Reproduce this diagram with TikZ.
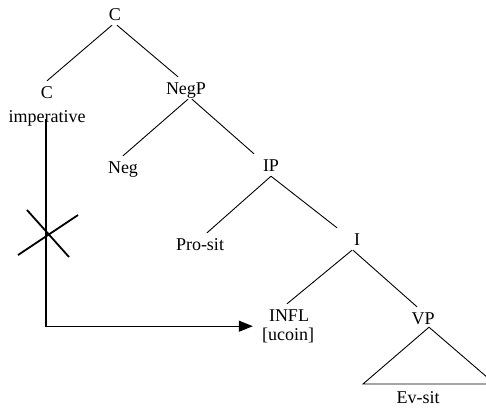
\documentclass[tikz,border=0pt]{standalone}
\usepackage{fontspec}
\setmainfont{Liberation Serif}
\usetikzlibrary{arrows.meta}
\tikzset{
	lbl/.style={anchor=base, inner xsep=2pt, inner ysep=3pt, text height=14pt, text depth=2pt, font=\fontsize{18}{20}\selectfont},
	branch/.style={line width=0.9pt},
	moveline/.style={line width=1.1pt, -{Triangle[length=14pt, width=11pt]}},
}

\begin{document}
\begin{tikzpicture}[x=1pt, y=-1pt]
			%%%%% START %%%%%
			
			\useasboundingbox (0, 0) rectangle (486, 408);
			\clip (0, 0) rectangle (486, 408);
			
			\node[lbl] (ctop) at (115, 20) {C};
			\node[lbl] (cimp) at (47, 98) {C};
			\node[lbl] (imp) at (47, 122) {imperative};
			\node[lbl] (negp) at (186, 94) {NegP};
			\node[lbl] (neg) at (123, 173) {Neg};
			\node[lbl] (ip) at (271, 171) {IP};
			\node[lbl] (prosit) at (200, 250) {Pro-sit};
			\node[lbl] (ibar) at (357, 245) {I};
			\node[lbl] (infl) at (289, 321) {INFL};
			\node[lbl] (ucoin) at (288, 340) {[ucoin]};
			\node[lbl] (vp) at (423, 324) {VP};
			\node[lbl] (evsit) at (418, 403) {Ev-sit};
			
			\draw[branch] ([xshift=-3pt]ctop.south) -- (cimp.north);
			\draw[branch] ([xshift=2pt]ctop.south) -- ([xshift=-8pt]negp.north);
			\draw[branch] ([xshift=2pt]negp.south) -- (neg.north);
			\draw[branch] ([xshift=6pt]negp.south) -- ([xshift=-17pt]ip.north);
			\draw[branch] (ip.south) -- ([xshift=7pt]prosit.north);
			\draw[branch] (ip.south) -- ([xshift=-20pt]ibar.north);
			\draw[branch] ([xshift=-5pt]ibar.south) -- ([xshift=-2pt]infl.north);
			\draw[branch] ([xshift=-4pt]ibar.south) -- ([xshift=-6pt]vp.north);
			
			\draw[branch] ([xshift=6pt, yshift=2pt]vp.south) -- (363, 384) -- (495, 384) -- cycle;
			
			\draw[moveline] ([xshift=-1pt, yshift=8pt]imp.south) |- ([xshift=-14pt]infl.south west);
			
			\draw[line width=1.8pt] (18, 255) -- (78, 215);
			\draw[line width=1.8pt] (27, 210) -- (69, 257);
			
			%%%%% END %%%%%
\end{tikzpicture}
\end{document}
